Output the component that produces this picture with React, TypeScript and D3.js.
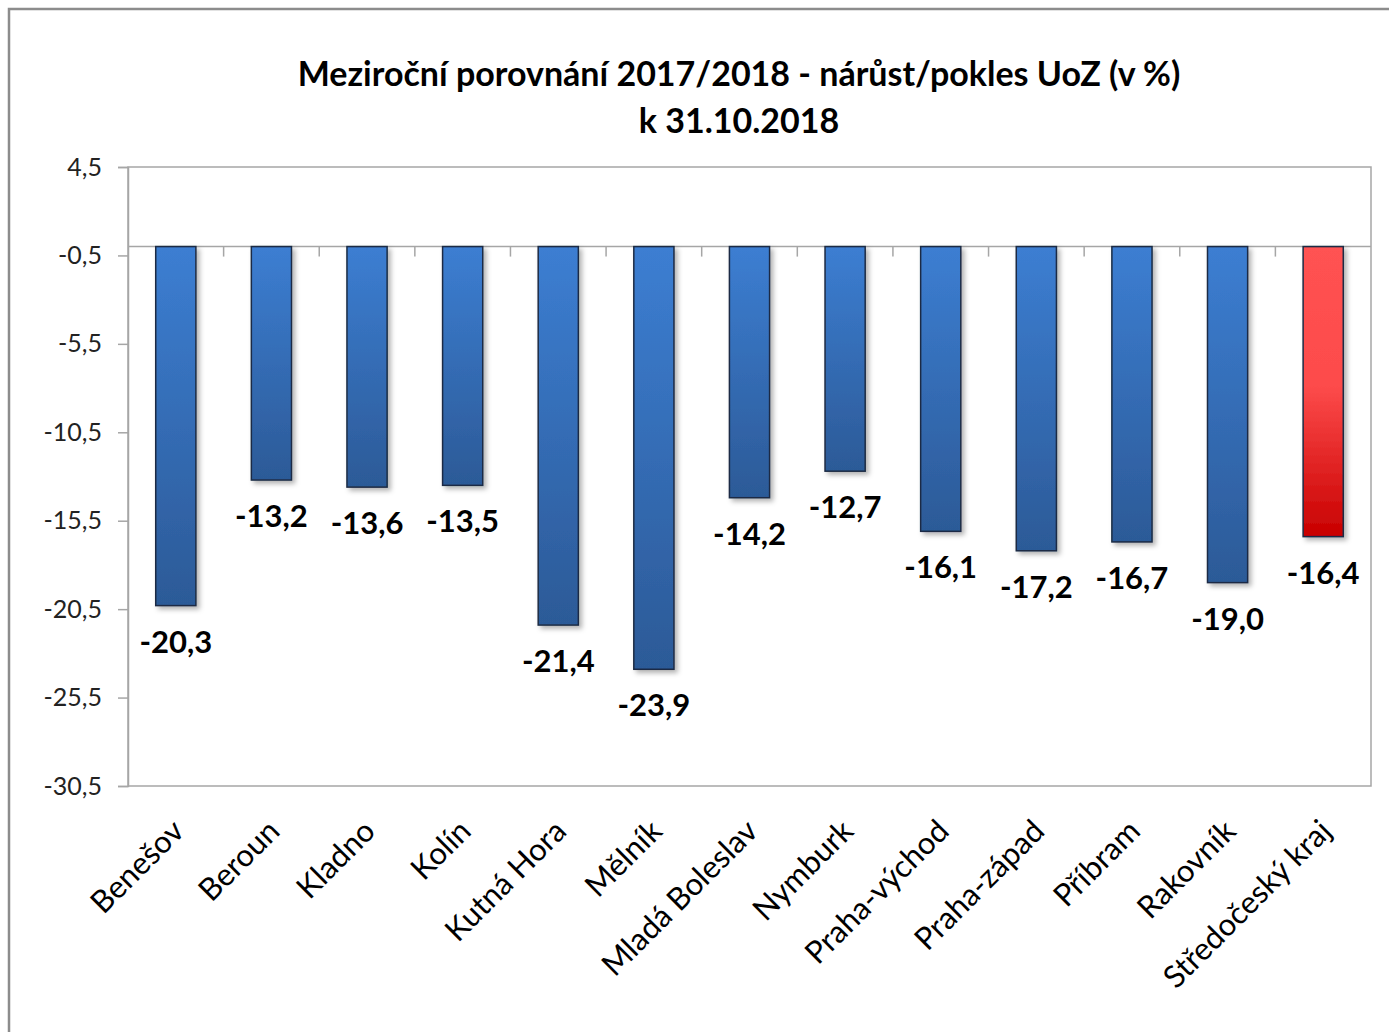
import React, { useRef, useEffect } from 'react'
import * as d3 from 'd3'

const categories = ['Benešov', 'Beroun', 'Kladno', 'Kolín', 'Kutná Hora', 'Mělník', 'Mladá Boleslav', 'Nymburk', 'Praha-východ', 'Praha-západ', 'Příbram', 'Rakovník', 'Středočeský kraj']
const values = [-20.3, -13.2, -13.6, -13.5, -21.4, -23.9, -14.2, -12.7, -16.1, -17.2, -16.7, -19.0, -16.4]
const yTicks = [4.5, -0.5, -5.5, -10.5, -15.5, -20.5, -25.5, -30.5]
const titleLines = ['Meziroční porovnání 2017/2018 - nárůst/pokles UoZ (v %)', 'k 31.10.2018']
const highlight = 'Středočeský kraj'

const W = 1389
const H = 1032
const plot = { left: 128, right: 1371, top: 167, bottom: 786 }
const fontFamily = 'Lato, "Open Sans", sans-serif'

const fmt = (v: number) => v.toFixed(1).replace('.', ',')

export default function App() {
    const svgRef = useRef<SVGSVGElement>(null)

    useEffect(() => {
        document.body.style.margin = '0'
        const svg = d3.select(svgRef.current)
        svg.selectAll('*').remove()

        const defs = svg.append('defs')
        const blue = defs.append('linearGradient').attr('id', 'gBlue').attr('x1', 0).attr('y1', 0).attr('x2', 0).attr('y2', 1)
        blue.append('stop').attr('offset', '0%').attr('stop-color', '#3c7ed2')
        blue.append('stop').attr('offset', '100%').attr('stop-color', '#2c5a97')
        const red = defs.append('linearGradient').attr('id', 'gRed').attr('x1', 0).attr('y1', 0).attr('x2', 0).attr('y2', 1)
        red.append('stop').attr('offset', '0%').attr('stop-color', '#ff5252')
        red.append('stop').attr('offset', '48%').attr('stop-color', '#fd4b4b')
        red.append('stop').attr('offset', '100%').attr('stop-color', '#c80000')
        const shadow = defs.append('filter').attr('id', 'shadow').attr('x', '-20%').attr('y', '-5%').attr('width', '160%').attr('height', '115%')
        shadow.append('feDropShadow').attr('dx', 3).attr('dy', 3).attr('stdDeviation', 2.5)
            .attr('flood-color', '#000').attr('flood-opacity', 0.3)

        svg.append('rect').attr('width', W).attr('height', H).attr('fill', '#fff')
        // outer chart frame
        svg.append('rect').attr('x', 9).attr('y', 9).attr('width', W + 20).attr('height', H + 20)
            .attr('fill', 'none').attr('stroke', '#8c8c8c').attr('stroke-width', 2.5)

        const x = d3.scaleBand().domain(categories).range([plot.left, plot.right]).paddingInner(0.58).paddingOuter(0.29)
        const step = x.step()
        const y = d3.scaleLinear().domain([4.5, -30.5]).range([plot.top, plot.bottom])

        // title
        const title = svg.append('text').attr('x', 739).attr('text-anchor', 'middle')
            .attr('font-family', fontFamily).attr('font-weight', 700).attr('font-size', 34).attr('fill', '#000')
        titleLines.forEach((t, i) => {
            title.append('tspan').attr('x', 739).attr('y', 86 + i * 47).text(t)
        })

        // plot border
        svg.append('rect').attr('x', plot.left).attr('y', plot.top)
            .attr('width', plot.right - plot.left).attr('height', plot.bottom - plot.top)
            .attr('fill', 'none').attr('stroke', '#a6a6a6').attr('stroke-width', 1.5)

        // y axis
        const yAxis = d3.axisLeft(y).tickValues(yTicks).tickSize(10).tickPadding(16).tickFormat(d => fmt(d as number))
        const gy = svg.append('g').attr('transform', `translate(${plot.left},0)`).call(yAxis)
        gy.select('.domain').attr('stroke', '#a6a6a6').attr('stroke-width', 1.5)
        gy.selectAll('.tick line').attr('stroke', '#a6a6a6').attr('stroke-width', 1.5)
        gy.selectAll('.tick text').attr('font-family', fontFamily).attr('font-size', 25).attr('fill', '#222')

        // category axis at zero
        const y0 = y(0)
        svg.append('line').attr('x1', plot.left).attr('x2', plot.right).attr('y1', y0).attr('y2', y0)
            .attr('stroke', '#a6a6a6').attr('stroke-width', 1.5)
        svg.append('g').selectAll('line').data(categories.slice(1)).join('line')
            .attr('x1', d => (x(d) as number) - step * 0.29).attr('x2', d => (x(d) as number) - step * 0.29)
            .attr('y1', y0).attr('y2', y0 + 10)
            .attr('stroke', '#a6a6a6').attr('stroke-width', 1.5)

        // bars
        svg.append('g').selectAll('rect').data(categories).join('rect')
            .attr('x', d => x(d) as number)
            .attr('y', y0)
            .attr('width', x.bandwidth())
            .attr('height', (d, i) => y(values[i]) - y0)
            .attr('fill', d => d === highlight ? 'url(#gRed)' : 'url(#gBlue)')
            .attr('stroke', '#1c2c44').attr('stroke-width', 1.5)
            .attr('filter', 'url(#shadow)')

        // value labels
        svg.append('g').selectAll('text').data(categories).join('text')
            .attr('x', d => (x(d) as number) + x.bandwidth() / 2)
            .attr('y', (d, i) => y(values[i]) + 47)
            .attr('text-anchor', 'middle')
            .attr('font-family', fontFamily).attr('font-weight', 700).attr('font-size', 31).attr('fill', '#000')
            .text((d, i) => fmt(values[i]))

        // category labels
        svg.append('g').selectAll('text').data(categories).join('text')
            .attr('transform', d => `translate(${(x(d) as number) + x.bandwidth() / 2 + 10},833) rotate(-45)`)
            .attr('text-anchor', 'end')
            .attr('font-family', fontFamily).attr('font-size', 31).attr('fill', '#000')
            .text(d => d)
    }, [])

    return (
        <svg ref={svgRef} width={W} height={H} style={{ display: 'block' }} />
    )
}
